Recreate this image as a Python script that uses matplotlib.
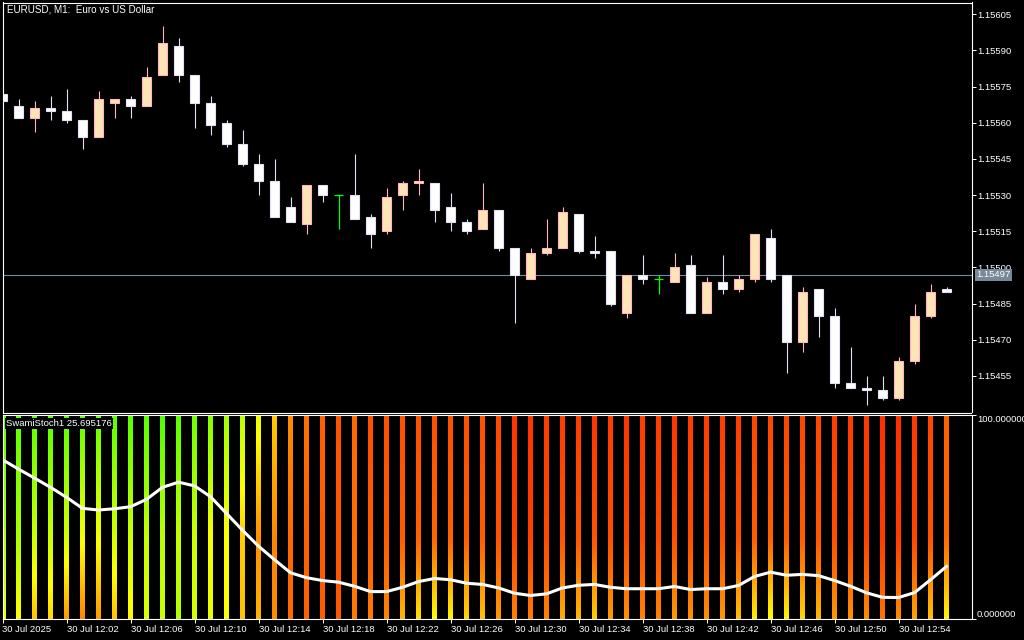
import matplotlib
matplotlib.use('Agg')
import matplotlib.pyplot as plt
import numpy as np
from matplotlib.colors import LinearSegmentedColormap

# EURUSD M1 candles, 30 Jul 2025 11:58 .. 12:57
opens = [1.15572, 1.15567, 1.15562, 1.15566, 1.15565, 1.15561, 1.15554, 1.15568, 1.15570, 1.15567,
         1.15580, 1.15592, 1.15580, 1.15568, 1.15560, 1.15551, 1.15543, 1.15536, 1.15525, 1.15518,
         1.15534, 1.15530, 1.15530, 1.15521, 1.15515, 1.15530, 1.15535, 1.15535, 1.15525, 1.15519,
         1.15516, 1.15524, 1.15508, 1.15495, 1.15506, 1.15508, 1.15522, 1.15507, 1.15507, 1.15481,
         1.15497, 1.15495, 1.15494, 1.15501, 1.15481, 1.15494, 1.15491, 1.15495, 1.15512, 1.15497,
         1.15469, 1.15491, 1.15480, 1.15452, 1.15450, 1.15449, 1.15446, 1.15461, 1.15480, 1.15491]
highs = [1.15572, 1.15570, 1.15569, 1.15571, 1.15574, 1.15561, 1.15573, 1.15570, 1.15571, 1.15583,
         1.15600, 1.15595, 1.15580, 1.15571, 1.15561, 1.15557, 1.15547, 1.15545, 1.15529, 1.15534,
         1.15534, 1.15530, 1.15547, 1.15522, 1.15533, 1.15536, 1.15541, 1.15535, 1.15531, 1.15520,
         1.15535, 1.15524, 1.15508, 1.15508, 1.15520, 1.15525, 1.15522, 1.15513, 1.15507, 1.15497,
         1.15505, 1.15497, 1.15506, 1.15505, 1.15496, 1.15505, 1.15497, 1.15514, 1.15516, 1.15497,
         1.15492, 1.15491, 1.15483, 1.15467, 1.15455, 1.15455, 1.15463, 1.15485, 1.15493, 1.15492]
lows = [1.15569, 1.15562, 1.15556, 1.15561, 1.15560, 1.15549, 1.15554, 1.15562, 1.15562, 1.15567,
        1.15580, 1.15577, 1.15558, 1.15555, 1.15550, 1.15542, 1.15530, 1.15521, 1.15519, 1.15514,
        1.15527, 1.15516, 1.15520, 1.15508, 1.15514, 1.15524, 1.15530, 1.15519, 1.15515, 1.15514,
        1.15516, 1.15507, 1.15477, 1.15495, 1.15505, 1.15508, 1.15506, 1.15504, 1.15484, 1.15479,
        1.15493, 1.15489, 1.15494, 1.15481, 1.15481, 1.15489, 1.15490, 1.15494, 1.15494, 1.15456,
        1.15465, 1.15471, 1.15450, 1.15450, 1.15443, 1.15445, 1.15445, 1.15460, 1.15479, 1.15490]
closes = [1.15569, 1.15562, 1.15566, 1.15565, 1.15561, 1.15554, 1.15570, 1.15570, 1.15567, 1.15579,
          1.15593, 1.15580, 1.15568, 1.15559, 1.15551, 1.15543, 1.15536, 1.15521, 1.15519, 1.15534,
          1.15530, 1.15530, 1.15520, 1.15514, 1.15529, 1.15535, 1.15536, 1.15524, 1.15519, 1.15515,
          1.15524, 1.15508, 1.15497, 1.15506, 1.15508, 1.15523, 1.15507, 1.15506, 1.15485, 1.15497,
          1.15495, 1.15495, 1.15500, 1.15481, 1.15494, 1.15491, 1.15495, 1.15514, 1.15495, 1.15469,
          1.15490, 1.15480, 1.15452, 1.15450, 1.15449, 1.15446, 1.15461, 1.15480, 1.15490, 1.15490]
last_price = 1.15497
price_ticks = [1.15455, 1.15470, 1.15485, 1.15500, 1.15515, 1.15530,
               1.15545, 1.15560, 1.15575, 1.15590, 1.15605]

# SwamiStoch line
stoch_line = [77.9, 73.3, 68.9, 64.4, 59.5, 54.1, 53.3, 53.9, 54.9, 58.5,
              64.4, 66.9, 65.1, 59.8, 51.6, 43.4, 35.6, 29.0, 22.6, 20.2,
              18.8, 18.0, 16.0, 13.4, 13.4, 15.5, 18.3, 19.8, 19.2, 17.5,
              16.9, 15.2, 12.6, 11.5, 12.3, 15.2, 16.5, 16.9, 15.5, 14.8,
              14.8, 14.8, 15.9, 14.4, 14.8, 14.8, 16.4, 20.8, 22.9, 21.4,
              21.8, 21.2, 18.8, 16.0, 12.8, 10.6, 10.5, 12.9, 19.2, 25.7]
# heatmap levels (0..100) at top / middle / bottom of each column
heat_top = [90, 90, 90, 90, 90, 88, 88, 90, 90, 90,
            92, 90, 85, 80, 72, 66, 55, 40, 28, 22,
            18, 15, 20, 14, 14, 14, 14, 14, 14, 14,
            14, 13, 8, 8, 10, 10, 10, 8, 10, 8,
            10, 10, 8, 10, 10, 10, 10, 12, 12, 12,
            12, 12, 10, 10, 9, 7, 7, 9, 12, 18]
heat_mid = [70, 70, 62, 62, 60, 52, 52, 60, 62, 64,
            66, 64, 62, 52, 50, 40, 28, 26, 20, 18,
            17, 16, 21, 17, 17, 17, 18, 19, 18, 17,
            17, 15, 12, 11, 13, 15, 16, 15, 14, 13,
            13, 13, 14, 14, 14, 14, 15, 17, 18, 17,
            17, 16, 14, 13, 11, 10, 10, 12, 15, 20]
heat_bot = [55, 50, 38, 42, 30, 26, 30, 38, 48, 58,
            62, 68, 60, 56, 50, 38, 35, 27, 20, 18,
            17, 16, 24, 24, 26, 36, 44, 50, 48, 42,
            38, 30, 25, 24, 26, 34, 36, 40, 30, 28,
            26, 26, 30, 28, 28, 30, 38, 46, 50, 48,
            42, 36, 30, 28, 27, 22, 27, 32, 38, 48]
stoch_label = 'SwamiStoch1 25.695176'

tick_pos = list(range(0, 60, 4))
tick_labels = ['30 Jul 2025', '30 Jul 12:02', '30 Jul 12:06', '30 Jul 12:10', '30 Jul 12:14',
               '30 Jul 12:18', '30 Jul 12:22', '30 Jul 12:26', '30 Jul 12:30', '30 Jul 12:34',
               '30 Jul 12:38', '30 Jul 12:42', '30 Jul 12:46', '30 Jul 12:50', '30 Jul 12:54']

plt.rcParams['font.family'] = ['Liberation Sans', 'DejaVu Sans']
FS = 6.8

heat_cmap = LinearSegmentedColormap.from_list(
    'swami', [(0.0, '#ff1000'), (0.25, '#ff8000'), (0.5, '#ffff00'), (1.0, '#30ff00')])

fig = plt.figure(figsize=(10.24, 6.4), dpi=100, facecolor='black')
ax = fig.add_axes([2.5 / 1024, 1 - 412.5 / 640, 969 / 1024, 410 / 640])
ax2 = fig.add_axes([2.5 / 1024, 1 - 619 / 640, 969 / 1024, 204.5 / 640])

for a in (ax, ax2):
    a.set_facecolor('black')
    for s in a.spines.values():
        s.set_color('white')
        s.set_linewidth(0.8)
    a.tick_params(colors='white', labelsize=FS, direction='out', width=0.7)

# candles
x = np.arange(len(opens))
bull_fill, bull_edge = '#ffe4b5', '#ffb6c1'
bear_fill, bear_edge = '#ffffff', '#e0e0f4'
doji_col = '#00ff00'
for i in x:
    o, h, l, c = opens[i], highs[i], lows[i], closes[i]
    if c > o:
        fill, edge = bull_fill, bull_edge
    elif c < o:
        fill, edge = bear_fill, bear_edge
    else:
        edge = doji_col
    ax.vlines(i, l, h, color=edge, lw=0.9 if c == o else 0.8, zorder=2)
    if c == o:
        ax.hlines(o, i - 0.31, i + 0.31, color=doji_col, lw=0.9, zorder=3)
    else:
        ax.bar(i, abs(c - o), bottom=min(o, c), width=0.62, color=fill,
               edgecolor=edge, linewidth=0.8, zorder=3)

ax.axhline(last_price, color='#778899', lw=0.8, zorder=1)
ax.annotate(f'{last_price:.5f}', xy=(1, last_price), xycoords=('axes fraction', 'data'),
            xytext=(3.2, 0), textcoords='offset points', ha='left', va='center',
            fontsize=FS, color='white', annotation_clip=False,
            bbox=dict(facecolor='#778899', edgecolor='none', pad=1.0))

ax.set_xlim(0, 60.56)
ax.set_ylim(1.154398, 1.156099)
ax.set_xticks([])
ax.yaxis.tick_right()
ax.set_yticks(price_ticks)
ax.set_yticklabels([f'{p:.5f}' for p in price_ticks])
ax.tick_params(axis='y', length=3, pad=1)
ax.annotate('EURUSD, M1:  Euro vs US Dollar', xy=(0, 1), xycoords='axes fraction',
            xytext=(3, -5.4), textcoords='offset points', ha='left', va='center',
            fontsize=FS + 0.3, color='white')

# Swami heatmap columns
grid = np.linspace(0, 100, 120)
for i in x:
    lev = np.interp(grid, [0, 40, 100], [heat_bot[i], heat_mid[i], heat_top[i]])
    img = heat_cmap(lev / 100.0)[:, None, :]
    ax2.imshow(img, extent=(i - 0.135, i + 0.135, 0, 100), origin='lower',
               aspect='auto', interpolation='bilinear', zorder=1)

ax2.plot(x, stoch_line, color='white', lw=2.2, zorder=3)
ax2.set_xlim(0, 60.56)
ax2.set_ylim(0, 100)
ax2.yaxis.tick_right()
ax2.set_yticks([0, 100])
ax2.set_yticklabels(['0.000000', '100.000000'])
lbls = ax2.get_yticklabels()
lbls[0].set_va('bottom')
lbls[1].set_va('top')
ax2.tick_params(axis='y', length=3, pad=1)
ax2.set_xticks(tick_pos)
ax2.set_xticklabels(tick_labels, ha='left')
ax2.tick_params(axis='x', length=3, pad=1.5)
ax2.annotate(stoch_label, xy=(0, 1), xycoords='axes fraction',
             xytext=(2.5, -6.5), textcoords='offset points', ha='left', va='center',
             fontsize=FS, color='white', zorder=5,
             bbox=dict(facecolor='black', edgecolor='none', pad=0.8))

fig.savefig('out.png', dpi=100, facecolor='black')
